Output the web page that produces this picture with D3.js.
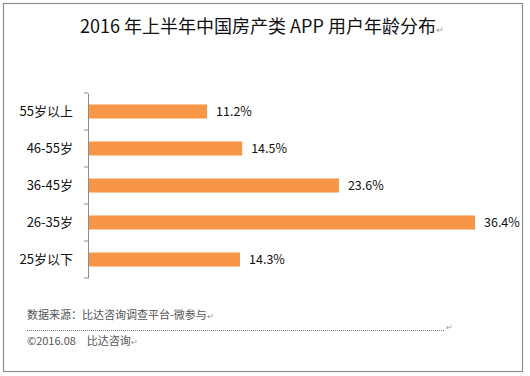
<!DOCTYPE html>
<html>
<head>
<meta charset="utf-8">
<script src="https://cdn.jsdelivr.net/npm/d3@7"></script>
<style>
  body { margin: 0; background: #fff; }
  text { font-family: "Noto Sans CJK SC", "Noto Sans", sans-serif; }
</style>
</head>
<body>
<div id="chart-area"></div>
<script>
// data
var categories = ["55岁以上", "46-55岁", "36-45岁", "26-35岁", "25岁以下"];
var values = [11.2, 14.5, 23.6, 36.4, 14.3];
var labels = ["11.2%", "14.5%", "23.6%", "36.4%", "14.3%"];

var width = 530;
var height = 376;

var svg = d3.select("#chart-area")
    .append("svg")
    .attr("width", width)
    .attr("height", height);

// outer frame
svg.append("rect")
    .attr("x", 3.5).attr("y", 3.5)
    .attr("width", 519).attr("height", 368)
    .attr("fill", "#fff")
    .attr("stroke", "#8c8c8c")
    .attr("stroke-width", 1.2);

// title
var title = svg.append("text")
    .attr("x", 262)
    .attr("y", 33)
    .attr("text-anchor", "middle")
    .attr("font-size", "18px")
    .attr("fill", "#111");
title.append("tspan").text("2016 年上半年中国房产类 APP 用户年龄分布");
title.append("tspan").attr("font-size", "9px").attr("fill", "#999").text("↵");

var plotLeft = 88, plotTop = 93, plotH = 185;

var x = d3.scaleLinear()
    .domain([0, 36.4])
    .range([plotLeft, 475]);

var y = d3.scaleBand()
    .domain(categories)
    .range([plotTop, plotTop + plotH])
    .paddingInner(0.62)
    .paddingOuter(0.31);

var yBand = d3.scaleBand()
    .domain(categories)
    .range([plotTop, plotTop + plotH]);

// bars
svg.selectAll("rect.bar").data(values)
    .enter()
    .append("rect")
        .attr("class", "bar")
        .attr("x", x(0))
        .attr("y", (d, i) => y(categories[i]))
        .attr("width", (d) => x(d) - x(0))
        .attr("height", y.bandwidth())
        .attr("fill", "#F79646");

// value labels
svg.selectAll("text.val").data(values)
    .enter()
    .append("text")
        .attr("class", "val")
        .attr("x", (d) => x(d) + 9)
        .attr("y", (d, i) => y(categories[i]) + y.bandwidth() / 2)
        .attr("dy", "0.35em")
        .attr("font-size", "12.5px")
        .attr("fill", "#111")
        .text((d, i) => labels[i]);

// left axis
var yAxis = d3.axisLeft(yBand).tickSize(0).tickPadding(15);
var ax = svg.append("g")
    .attr("transform", "translate(" + plotLeft + ",0)")
    .call(yAxis);
ax.select(".domain").attr("stroke", "#8c8c8c");
ax.selectAll("text")
    .attr("font-size", "13px")
    .attr("fill", "#111")
    .style("font-family", "'Noto Sans CJK SC', sans-serif");

// tick marks at band edges
var edges = categories.map((c) => yBand(c)).concat([plotTop + plotH]);
ax.selectAll("line.edge").data(edges)
    .enter()
    .append("line")
        .attr("class", "edge")
        .attr("x1", -4).attr("x2", 0)
        .attr("y1", (d) => d).attr("y2", (d) => d)
        .attr("stroke", "#8c8c8c");

// footer
var src = svg.append("text")
    .attr("x", 27).attr("y", 319)
    .attr("font-size", "11px")
    .attr("fill", "#555");
src.append("tspan").text("数据来源：比达咨询调查平台-微参与");
src.append("tspan").attr("font-size", "8px").attr("fill", "#999").text("↵");

svg.append("line")
    .attr("x1", 27).attr("x2", 445)
    .attr("y1", 330.5).attr("y2", 330.5)
    .attr("stroke", "#777")
    .attr("stroke-dasharray", "1,1");
svg.append("text")
    .attr("x", 446).attr("y", 330)
    .attr("font-size", "8px").attr("fill", "#999")
    .text("↵");

var copy = svg.append("text")
    .attr("x", 27).attr("y", 345)
    .attr("font-size", "11px")
    .attr("fill", "#555");
copy.append("tspan").text("©2016.08　比达咨询");
copy.append("tspan").attr("font-size", "8px").attr("fill", "#999").text("↵");
</script>
</body>
</html>
